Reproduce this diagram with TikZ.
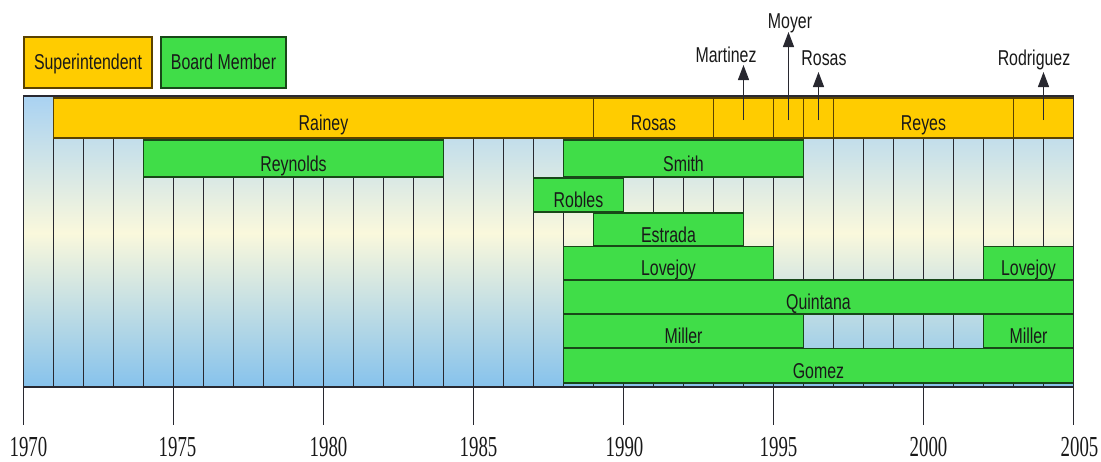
\documentclass[tikz,border=0pt]{standalone}
\usepackage{fontspec}
\newfontfamily\labfont[FakeStretch=0.74]{Liberation Sans}
\newfontfamily\axfont[FakeStretch=0.65]{Liberation Serif}
\usetikzlibrary{arrows.meta}
\definecolor{supY}{RGB}{255,204,0}
\definecolor{supB}{RGB}{90,66,0}
\definecolor{memG}{RGB}{64,221,72}
\definecolor{memB}{RGB}{24,72,24}
\definecolor{bgTop}{RGB}{169,210,242}
\definecolor{bgMid}{RGB}{250,248,220}
\definecolor{bgBot}{RGB}{134,194,236}
\definecolor{gridc}{RGB}{40,40,48}
\definecolor{txt}{RGB}{25,25,25}
\begin{document}
\begin{tikzpicture}[x=1pt,y=-1pt,
  lab/.style={font=\labfont\fontsize{21.5}{22}\selectfont, text=txt},
  barbase/.style={lab, line width=1.2pt, inner sep=0pt, outer sep=0pt, anchor=north west, text height=25pt, text depth=0pt},
  supbar/.style={barbase, draw=supB, fill=supY},
  membar/.style={barbase, draw=memB, fill=memG},
  legendbox/.style={lab, line width=1.2pt, inner sep=0pt, outer sep=0pt, anchor=north west, text height=15pt, text depth=2pt},
  gridline/.style={draw=gridc, line width=1pt},
  tickline/.style={draw=gridc, line width=1pt},
  framebox/.style={draw=gridc, line width=1.6pt},
  axlab/.style={font=\axfont\fontsize{29}{29}\selectfont, text=txt, anchor=base, inner sep=0pt, text height=20pt, text depth=0pt},
  toplab/.style={lab, anchor=base, inner sep=0pt},
  uparrow/.style={draw=gridc, line width=1.3pt, -{Triangle[width=11pt,length=15pt]}}
]
\useasboundingbox (0,0) rectangle (1101,461);

% background gradient
\shade[top color=bgTop, bottom color=bgMid] (23.5,96) rectangle (1073.5,233);
\shade[top color=bgMid, bottom color=bgBot] (23.5,233) rectangle (1073.5,387);

% year grid
\foreach \k in {1,...,34} \draw[gridline] ({23.5+30*\k},96) -- ({23.5+30*\k},387);

% legend
\node[legendbox, draw=supB, fill=supY, minimum width=128pt, minimum height=51pt] (legS) at (24,37) {Superintendent};
\node[legendbox, draw=memB, fill=memG, minimum width=125pt, minimum height=51pt] (legB) at (161,37) {Board Member};

% superintendents
\node[supbar, minimum width=540pt, minimum height=40pt] (rainey) at (53.5,98) {Rainey};
\node[supbar, minimum width=120pt, minimum height=40pt] (rosasA) at (593.5,98) {Rosas};
\node[supbar, minimum width=60pt, minimum height=40pt] (martinez) at (713.5,98) {};
\node[supbar, minimum width=30pt, minimum height=40pt] (moyer) at (773.5,98) {};
\node[supbar, minimum width=30pt, minimum height=40pt] (rosasB) at (803.5,98) {};
\node[supbar, minimum width=180pt, minimum height=40pt] (reyes) at (833.5,98) {Reyes};
\node[supbar, minimum width=60pt, minimum height=40pt] (rodriguez) at (1013.5,98) {};

% board members
\node[membar, minimum width=300pt, minimum height=37pt] (reynolds) at (143.5,140) {Reynolds};
\node[membar, minimum width=240pt, minimum height=37pt] (smith) at (563.5,140) {Smith};
\node[membar, minimum width=90pt, minimum height=34pt] (robles) at (533.5,178) {Robles};
\node[membar, minimum width=150pt, minimum height=33pt] (estrada) at (593.5,213) {Estrada};
\node[membar, minimum width=210pt, minimum height=33.5pt] (lovejoyA) at (563.5,246.5) {Lovejoy};
\node[membar, minimum width=90pt, minimum height=33.5pt] (lovejoyB) at (983.5,246.5) {Lovejoy};
\node[membar, minimum width=510pt, minimum height=34pt] (quintana) at (563.5,280) {Quintana};
\node[membar, minimum width=240pt, minimum height=34pt] (millerA) at (563.5,314) {Miller};
\node[membar, minimum width=90pt, minimum height=34pt] (millerB) at (983.5,314) {Miller};
\node[membar, minimum width=510pt, minimum height=34.5pt] (gomez) at (563.5,348.5) {Gomez};

% frame
\draw[framebox] (23.5,96) rectangle (1073.5,387);

% axis ticks and labels
\foreach \k/\l/\dx in {0/1970/5, 5/1975/4, 10/1980/5, 15/1985/5, 20/1990/1, 25/1995/5, 30/2000/5, 35/2005/6} {
  \draw[tickline] ({23.5+30*\k},387) -- ({23.5+30*\k},425);
  \node[axlab] (y\l) at ({23.5+30*\k+\dx},456) {\l};
}

% short-term superintendents
\coordinate (martS) at (743.5,120);
\coordinate (martT) at (743.5,65);
\coordinate (moyS) at (788.5,120);
\coordinate (moyT) at (788.5,32);
\coordinate (rosS) at (818.5,120);
\coordinate (rosT) at (818.5,72);
\coordinate (rodS) at (1043.5,120);
\coordinate (rodT) at (1043.5,72);
\draw[uparrow] (martS) -- (martT);
\draw[uparrow] (moyS) -- (moyT);
\draw[uparrow] (rosS) -- (rosT);
\draw[uparrow] (rodS) -- (rodT);
\node[toplab] (lmart) at (726,62) {Martinez};
\node[toplab] (lmoy) at (790,28) {Moyer};
\node[toplab] (lros) at (824,65) {Rosas};
\node[toplab] (lrod) at (1034,65) {Rodriguez};
\end{tikzpicture}
\end{document}
